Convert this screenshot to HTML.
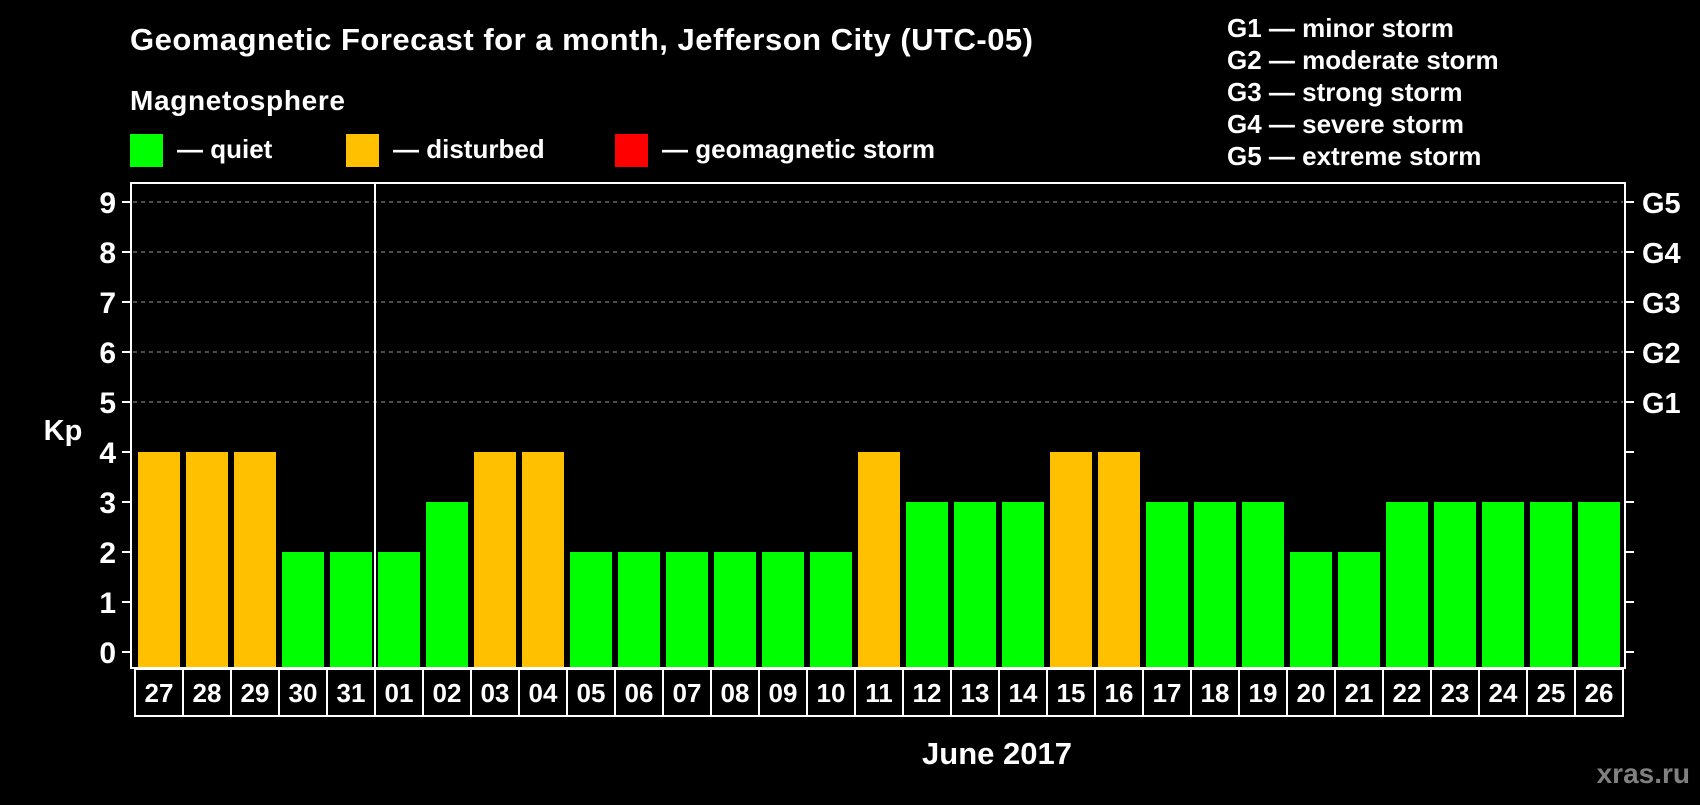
<!DOCTYPE html>
<html><head><meta charset="utf-8"><style>
body{margin:0;background:#000;width:1700px;height:800px;overflow:hidden;font-family:"Liberation Sans",sans-serif;}
svg text{font-family:"Liberation Sans",sans-serif;font-weight:bold;fill:#fff;}
</style></head><body>
<svg id="c" width="1700" height="800">
<text x="130" y="50" font-size="31" textLength="903">Geomagnetic Forecast for a month, Jefferson City (UTC-05)</text>
<text x="130" y="110" font-size="28" textLength="215">Magnetosphere</text>
<g><rect x="130" y="134" width="33" height="33" fill="#00ff00"/><text x="177" y="158" font-size="26">— quiet</text></g>
<g><rect x="346" y="134" width="33" height="33" fill="#ffc000"/><text x="393" y="158" font-size="26">— disturbed</text></g>
<g><rect x="615" y="134" width="33" height="33" fill="#ff0000"/><text x="662" y="158" font-size="26">— geomagnetic storm</text></g>
<g font-size="26">
<text x="1227" y="37">G1 — minor storm</text>
<text x="1227" y="69">G2 — moderate storm</text>
<text x="1227" y="101">G3 — strong storm</text>
<text x="1227" y="133">G4 — severe storm</text>
<text x="1227" y="165">G5 — extreme storm</text>
</g>
<text x="63" y="440" font-size="29" text-anchor="middle">Kp</text>
<g id="grid"></g><g id="bars"></g><g id="ticks"></g><g id="xlab"></g>
<rect x="131" y="183" width="1494" height="485" fill="none" stroke="#fff" stroke-width="2"/>
<line x1="375" y1="183" x2="375" y2="716" stroke="#fff" stroke-width="2"/>
<text x="997" y="764" font-size="31" text-anchor="middle">June 2017</text>
<text x="1690" y="783" font-size="28" text-anchor="end" style="fill:#808080">xras.ru</text>
</svg>
<script>
const days=["27","28","29","30","31","01","02","03","04","05","06","07","08","09","10","11","12","13","14","15","16","17","18","19","20","21","22","23","24","25","26"];
const kp=[4,4,4,2,2,2,3,4,4,2,2,2,2,2,2,4,3,3,3,4,4,3,3,3,2,2,3,3,3,3,3];
const yTicks=[0,1,2,3,4,5,6,7,8,9];
const gLabels=["G1","G2","G3","G4","G5"];
const NS="http://www.w3.org/2000/svg";
const y=v=>652-v*50;
const x=i=>138+i*48;
function mk(t,a,p){const e=document.createElementNS(NS,t);for(const k in a)e.setAttribute(k,a[k]);p.appendChild(e);return e;}
const grid=document.getElementById('grid'),bars=document.getElementById('bars'),ticks=document.getElementById('ticks'),xl=document.getElementById('xlab');
yTicks.forEach(v=>{
 if(v>=5){const l=mk('line',{x1:133,x2:1623,y1:y(v),y2:y(v),stroke:'#999','stroke-dasharray':'4,4','stroke-width':1},grid);
 
 }
 mk('line',{x1:122,x2:131,y1:y(v),y2:y(v),stroke:'#fff','stroke-width':2},ticks);
 mk('line',{x1:1625,x2:1634,y1:y(v),y2:y(v),stroke:'#fff','stroke-width':2},ticks);
 const t=mk('text',{x:116,y:y(v)+11,'font-size':30,'text-anchor':'end'},ticks);t.textContent=v;
 
 
 if(v>=5){const g=mk('text',{x:1642,y:y(v)+11,'font-size':29},ticks);g.textContent=gLabels[v-5];
 
 }
});
kp.forEach((v,i)=>{
 const col=v>=5?'#ff0000':(v>=4?'#ffc000':'#00ff00');
 const r=mk('rect',{x:x(i),y:y(v),width:42,height:668-y(v),fill:col},bars);
 
 
 const b=mk('rect',{x:x(i)-3,y:669,width:48,height:47,fill:'none',stroke:'#fff','stroke-width':2},xl);
 
 
 const t=mk('text',{x:x(i)+21,y:702,'font-size':26,'text-anchor':'middle'},xl);t.textContent=days[i];
 
 
});
</script>
</body></html>
